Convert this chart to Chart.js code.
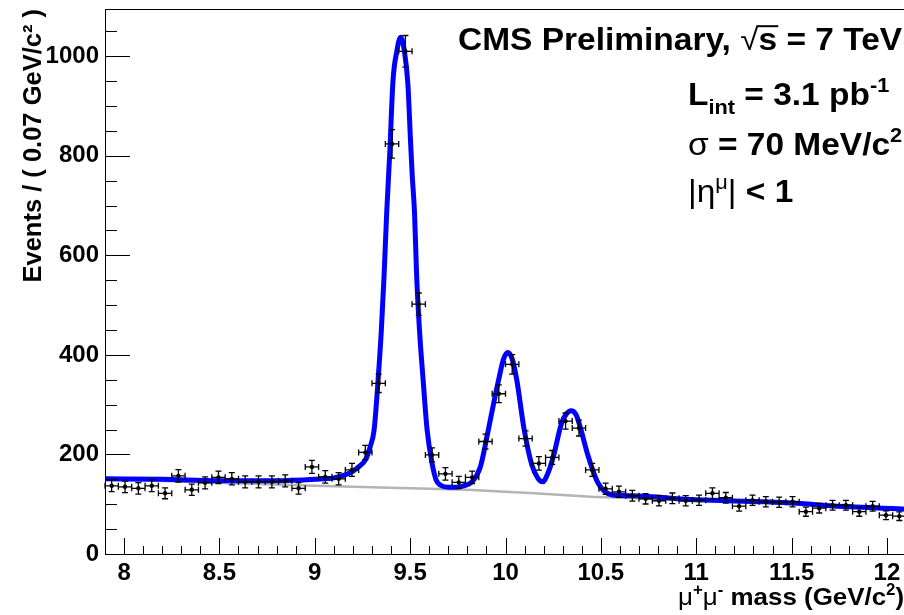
<!DOCTYPE html>
<html>
<head>
<meta charset="utf-8">
<script src="https://cdn.jsdelivr.net/npm/chart.js@4.4.0/dist/chart.umd.min.js"></script>
<style>
  html, body { margin: 0; padding: 0; background: #fff; overflow: hidden; }
  #wrap { width: 904px; height: 615px; overflow: hidden; }
  #box { width: 910px; height: 615px; }
</style>
</head>
<body>
<div id="wrap"><div id="box"><canvas id="massChart"></canvas></div></div>
<script>
// bin centres of the 0.07 GeV/c2 bins
var binCenters = [7.935, 8.005, 8.075, 8.145, 8.215, 8.285, 8.355, 8.425, 8.495, 8.565,
  8.635, 8.705, 8.775, 8.845, 8.915, 8.985, 9.055, 9.125, 9.195, 9.265,
  9.335, 9.405, 9.475, 9.545, 9.615, 9.685, 9.755, 9.825, 9.895, 9.965,
  10.035, 10.105, 10.175, 10.245, 10.315, 10.385, 10.455, 10.525, 10.595, 10.665,
  10.735, 10.805, 10.875, 10.945, 11.015, 11.085, 11.155, 11.225, 11.295, 11.365,
  11.435, 11.505, 11.575, 11.645, 11.715, 11.785, 11.855, 11.925, 11.995, 12.065];
var events = [137, 135, 132, 137, 122, 157, 129, 143, 154, 151,
  145, 145, 145, 147, 132, 175, 155, 151, 169, 204,
  343, 824, 1010, 502, 199, 161, 144, 154, 226, 322,
  381, 232, 182, 194, 267, 253, 169, 131, 125, 117,
  111, 107, 112, 107, 108, 122, 113, 96, 108, 105,
  104, 105, 85, 92, 98, 98, 85, 96, 78, 76];
var eventErrors = [11.7, 11.6, 11.5, 11.7, 11.0, 12.5, 11.4, 12.0, 12.4, 12.3,
  12.0, 12.0, 12.0, 12.1, 11.5, 13.2, 12.4, 12.3, 13.0, 14.3,
  18.5, 28.7, 31.8, 22.4, 14.1, 12.7, 12.0, 12.4, 15.0, 17.9,
  19.5, 15.2, 13.5, 13.9, 16.3, 15.9, 13.0, 11.4, 11.2, 10.8,
  10.5, 10.3, 10.6, 10.3, 10.4, 11.0, 10.6, 9.8, 10.4, 10.2,
  10.2, 10.2, 9.2, 9.6, 9.9, 9.9, 9.2, 9.8, 8.8, 8.7];
var binHalfWidth = 0.035;

// fit curve (signal + background)
var fitMass = [7.90, 8.20, 8.50, 8.80, 9.00, 9.10, 9.18, 9.23, 9.267, 9.29,
  9.311, 9.332, 9.349, 9.363, 9.377, 9.393, 9.41, 9.43, 9.45, 9.47,
  9.488, 9.502, 9.511, 9.523, 9.534, 9.549, 9.568, 9.589, 9.615, 9.636,
  9.66, 9.70, 9.74, 9.78, 9.824, 9.868, 9.903, 9.938, 9.964, 9.99,
  10.012, 10.035, 10.059, 10.097, 10.138, 10.17, 10.195, 10.22, 10.251, 10.294,
  10.32, 10.344, 10.37, 10.391, 10.434, 10.486, 10.556, 10.66, 11.0, 11.36,
  11.53, 11.7, 11.98, 12.1];
var fitEvents = [151, 150, 147, 147, 150, 153, 162, 175, 190, 215,
  249, 350, 450, 557, 685, 805, 950, 1010, 1038, 1010,
  945, 830, 760, 685, 560, 450, 350, 249, 182, 149,
  138, 134, 134, 137, 145, 175, 236, 303, 350, 392,
  405, 392, 350, 252, 179, 152, 145, 160, 196, 263,
  282, 288, 280, 256, 196, 142, 119, 117, 109, 105,
  102, 97, 92, 90];

// background only
var bgMass = [7.9, 8.5, 9.0, 9.5, 9.8, 10.15, 10.45, 11.0, 11.5, 12.1];
var bgEvents = [150, 143, 137, 132, 129, 122, 115, 108, 101, 91];

var xTickLabels = [8, 8.5, 9, 9.5, 10, 10.5, 11, 11.5, 12];
var yTickLabels = [0, 200, 400, 600, 800, 1000];

var FONT = "'Liberation Sans', Arial, Helvetica, sans-serif";

function toPoints(xs, ys) {
  return xs.map(function (x, i) { return { x: x, y: ys[i] }; });
}

// frame + ROOT style ticks pointing into the pad
var framePlugin = {
  id: 'frame',
  afterDraw: function (chart) {
    var ctx = chart.ctx, a = chart.chartArea;
    var xs = chart.scales.x, ys = chart.scales.y;
    ctx.save();
    ctx.strokeStyle = '#000';
    ctx.lineWidth = 1;
    ctx.beginPath();
    for (var k = 80; k <= 121; k++) {
      var v = k / 10;
      var px = Math.round(xs.getPixelForValue(v)) + 0.5;
      var len = (k % 5 === 0) ? 16 : 8;
      ctx.moveTo(px, a.bottom);
      ctx.lineTo(px, a.bottom - len);
    }
    for (var j = 1; j <= 21; j++) {
      var yv = j * 50;
      var py = Math.round(ys.getPixelForValue(yv)) + 0.5;
      var ylen = (yv % 200 === 0) ? 25 : 12;
      ctx.moveTo(a.left, py);
      ctx.lineTo(a.left + ylen, py);
    }
    ctx.stroke();
    ctx.strokeRect(a.left + 0.5, a.top + 0.5, a.right - a.left, a.bottom - a.top);
    ctx.restore();
  }
};

// error bars on the data points
var errorBarPlugin = {
  id: 'errorBars',
  afterDatasetsDraw: function (chart) {
    var ctx = chart.ctx, xs = chart.scales.x, ys = chart.scales.y;
    ctx.save();
    ctx.strokeStyle = '#000';
    ctx.lineWidth = 1.3;
    ctx.beginPath();
    binCenters.forEach(function (m, i) {
      var px = xs.getPixelForValue(m);
      var py = ys.getPixelForValue(events[i]);
      var y1 = ys.getPixelForValue(events[i] + eventErrors[i]);
      var y2 = ys.getPixelForValue(events[i] - eventErrors[i]);
      var x1 = xs.getPixelForValue(m - binHalfWidth);
      var x2 = xs.getPixelForValue(m + binHalfWidth);
      ctx.moveTo(px, y1); ctx.lineTo(px, y2);
      ctx.moveTo(px - 3, y1); ctx.lineTo(px + 3, y1);
      ctx.moveTo(px - 3, y2); ctx.lineTo(px + 3, y2);
      ctx.moveTo(x1, py); ctx.lineTo(x2, py);
      ctx.moveTo(x1, py - 3); ctx.lineTo(x1, py + 3);
      ctx.moveTo(x2, py - 3); ctx.lineTo(x2, py + 3);
    });
    ctx.stroke();
    ctx.restore();
  }
};

// small rich text helper for sub/superscripts, slightly widened like the original
function drawRich(ctx, x0, y, size, stretch, parts) {
  ctx.save();
  ctx.translate(x0, 0);
  ctx.scale(stretch, 1);
  var x = 0;
  parts.forEach(function (p) {
    var s = size, dy = 0;
    if (p.sub) { s = size * 0.65; dy = size * 0.28; }
    if (p.sup) { s = size * 0.65; dy = -size * 0.42; }
    ctx.font = (p.plain ? 'normal ' : 'bold ') + s + 'px ' + FONT;
    ctx.fillText(p.t, x, y + dy);
    var w = ctx.measureText(p.t).width;
    if (p.over) {
      ctx.fillRect(x - 1, y - size * 0.8, w + 2, 2);
    }
    x += w;
  });
  ctx.restore();
}

var textPlugin = {
  id: 'labels',
  afterDraw: function (chart) {
    var ctx = chart.ctx;
    ctx.save();
    ctx.fillStyle = '#000';
    ctx.textBaseline = 'alphabetic';
    ctx.textAlign = 'left';
    drawRich(ctx, 458, 50, 31, 1.08, [{ t: 'CMS Preliminary, ' }, { t: '\u221A', plain: true }, { t: 's', over: true }, { t: ' = 7 TeV' }]);
    drawRich(ctx, 688, 105, 31, 1.08, [{ t: 'L' }, { t: 'int', sub: true }, { t: ' = 3.1 pb' }, { t: '-1', sup: true }]);
    drawRich(ctx, 688, 155, 31, 1.08, [{ t: '\u03C3', plain: true }, { t: ' = 70 MeV/c' }, { t: '2', sup: true }]);
    drawRich(ctx, 688, 202, 31, 1.08, [{ t: '|\u03B7', plain: true }, { t: '\u03BC', sup: true, plain: true }, { t: '|', plain: true }, { t: ' < 1' }]);
    // x axis title
    drawRich(ctx, 678, 605, 24, 1.08, [{ t: '\u03BC', plain: true }, { t: '+', sup: true }, { t: '\u03BC', plain: true }, { t: '-', sup: true }, { t: ' mass (GeV/c' }, { t: '2', sup: true }, { t: ')' }]);
    ctx.restore();
  }
};

var ctx = document.getElementById('massChart').getContext('2d');
var massChart = new Chart(ctx, {
  type: 'scatter',
  data: {
    datasets: [{
      label: 'data',
      data: toPoints(binCenters, events),
      pointRadius: 2.2,
      pointBackgroundColor: '#000',
      pointBorderWidth: 0,
      showLine: false
    }, {
      label: 'fit',
      data: toPoints(fitMass, fitEvents),
      showLine: true,
      borderColor: '#0000ff',
      borderWidth: 5,
      pointRadius: 0,
      cubicInterpolationMode: 'monotone'
    }, {
      label: 'background',
      data: toPoints(bgMass, bgEvents),
      showLine: true,
      borderColor: '#b4b4b4',
      borderWidth: 2.5,
      pointRadius: 0
    }]
  },
  options: {
    responsive: true,
    maintainAspectRatio: false,
    animation: false,
    layout: { padding: { top: 9, right: 1, left: 0, bottom: 0 } },
    plugins: {
      legend: { display: false },
      tooltip: { enabled: false }
    },
    scales: {
      x: {
        type: 'linear',
        min: 7.9,
        max: 12.1,
        afterBuildTicks: function (s) { s.ticks = xTickLabels.map(function (v) { return { value: v }; }); },
        afterFit: function (s) { s.height = 61; s.paddingLeft = 0; s.paddingRight = 0; },
        grid: { display: false, drawTicks: false },
        border: { display: false },
        ticks: {
          color: '#000',
          padding: 5,
          maxRotation: 0,
          autoSkip: false,
          font: { family: FONT, size: 24, weight: 'bold' },
          callback: function (v) { return String(v); }
        }
      },
      y: {
        type: 'linear',
        min: 0,
        max: 1095,
        afterBuildTicks: function (s) { s.ticks = yTickLabels.map(function (v) { return { value: v }; }); },
        afterFit: function (s) { s.width = 105; s.paddingTop = 0; s.paddingBottom = 0; },
        grid: { display: false, drawTicks: false },
        border: { display: false },
        ticks: {
          color: '#000',
          padding: 6,
          autoSkip: false,
          font: { family: FONT, size: 24, weight: 'bold' },
          callback: function (v) { return String(v); }
        },
        title: {
          display: true,
          text: 'Events / ( 0.07 GeV/c\u00B2 )',
          align: 'end',
          color: '#000',
          padding: { top: 19, bottom: 0 },
          font: { family: FONT, size: 25.5, weight: 'bold' }
        }
      }
    }
  },
  plugins: [framePlugin, errorBarPlugin, textPlugin]
});
</script>
</body>
</html>
